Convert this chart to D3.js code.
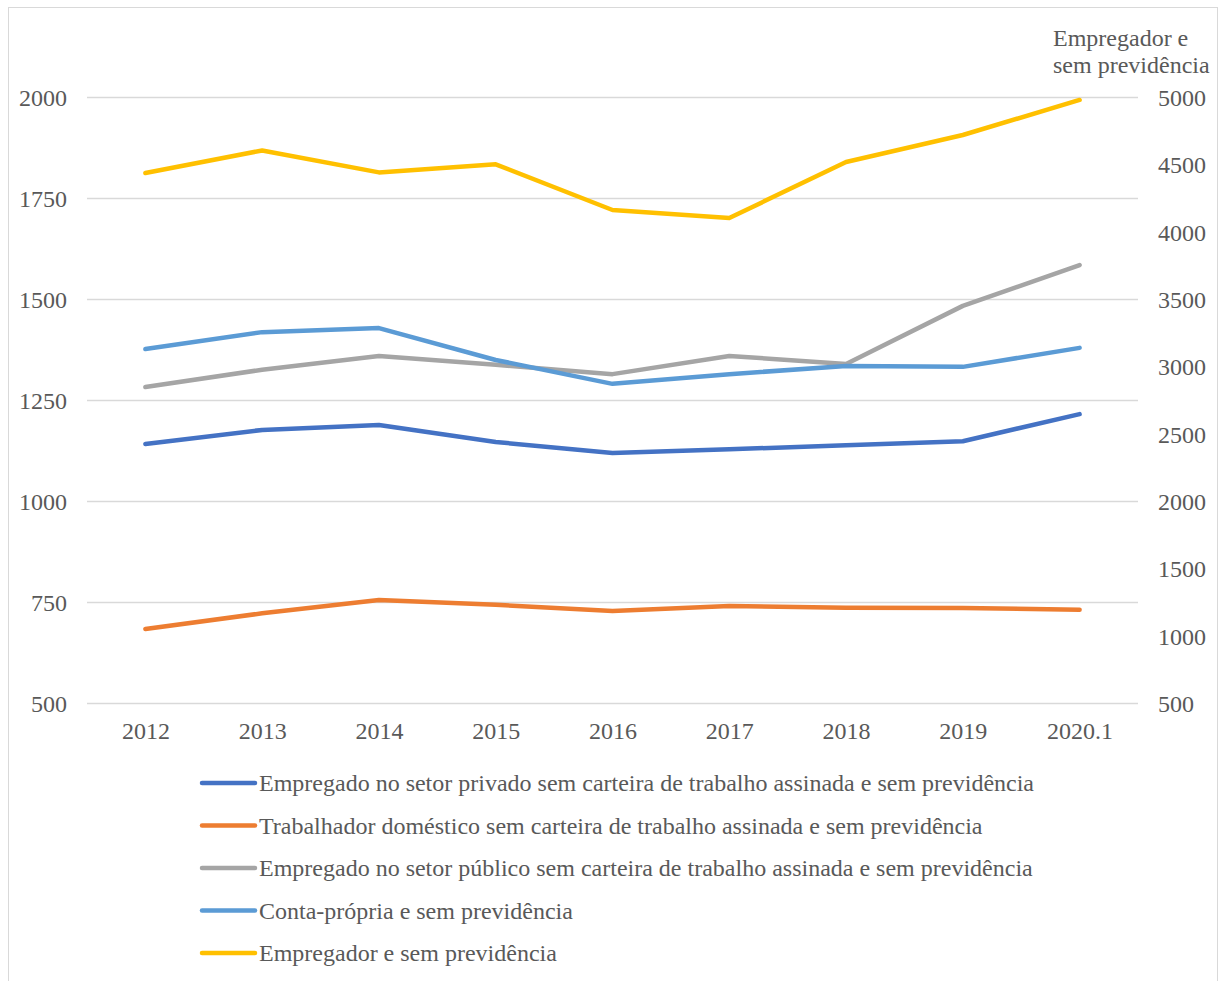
<!DOCTYPE html>
<html>
<head>
<meta charset="utf-8">
<script src="https://cdn.jsdelivr.net/npm/d3@7"></script>
<style>
  html, body { margin: 0; padding: 0; background: #fff; }
  svg text { font-family: "Liberation Serif", "Times New Roman", serif; fill: #595959; }
</style>
</head>
<body>
<svg id="chart" width="1222" height="981"></svg>
<script>
// Categories (x axis)
const periods = ["2012", "2013", "2014", "2015", "2016", "2017", "2018", "2019", "2020.1"];

// Series values (left axis)
const privadoSemCarteira = [1141, 1176, 1188, 1146, 1119, 1128, 1138, 1148, 1215];
const domesticoSemCarteira = [683, 722, 755, 743, 728, 740, 736, 735, 731];
const publicoSemCarteira = [1282, 1325, 1359, 1337, 1314, 1359, 1339, 1483, 1584];
const contaPropria = [1376, 1418, 1428, 1349, 1290, 1314, 1334, 1332, 1379];
// Series values (right axis)
const empregador = [4436, 4603, 4440, 4500, 4161, 4101, 4517, 4718, 4978];

// Tick labels
const leftTicks = [500, 750, 1000, 1250, 1500, 1750, 2000];
const rightTicks = [500, 1000, 1500, 2000, 2500, 3000, 3500, 4000, 4500, 5000];

const seriesNames = [
  "Empregado no setor privado sem carteira de trabalho assinada e sem previdência",
  "Trabalhador doméstico sem carteira de trabalho assinada e sem previdência",
  "Empregado no setor público sem carteira de trabalho assinada e sem previdência",
  "Conta-própria e sem previdência",
  "Empregador e sem previdência"
];
const seriesColors = ["#4472C4", "#ED7D31", "#A5A5A5", "#5B9BD5", "#FFC000"];
const rightAxisTitle = ["Empregador e", "sem previdência"];

const series = [
  { name: seriesNames[0], values: privadoSemCarteira, color: seriesColors[0], axis: "left" },
  { name: seriesNames[1], values: domesticoSemCarteira, color: seriesColors[1], axis: "left" },
  { name: seriesNames[2], values: publicoSemCarteira, color: seriesColors[2], axis: "left" },
  { name: seriesNames[3], values: contaPropria, color: seriesColors[3], axis: "left" },
  { name: seriesNames[4], values: empregador, color: seriesColors[4], axis: "right" }
];

const FONT = 24;
const svg = d3.select("#chart");

// Outer chart border
svg.append("rect")
  .attr("x", 8.5).attr("y", 7.5)
  .attr("width", 1209).attr("height", 990)
  .attr("fill", "none").attr("stroke", "#D9D9D9").attr("stroke-width", 1);

const plot = { left: 87, right: 1138, top: 97, bottom: 703 };

const x = d3.scalePoint()
  .domain(periods)
  .range([plot.left, plot.right])
  .padding(0.5);

const yLeft = d3.scaleLinear().domain([500, 2000]).range([plot.bottom, plot.top]);
const yRight = d3.scaleLinear().domain([500, 5000]).range([plot.bottom, plot.top]);

// Horizontal gridlines from the left axis
svg.append("g")
  .selectAll("line")
  .data(leftTicks)
  .join("line")
  .attr("x1", plot.left).attr("x2", plot.right)
  .attr("y1", d => Math.round(yLeft(d)) + 0.5)
  .attr("y2", d => Math.round(yLeft(d)) + 0.5)
  .attr("stroke", "#D9D9D9").attr("stroke-width", 1.3);

function styleLabels(g) {
  g.select(".domain").remove();
  g.selectAll("text")
    .attr("font-size", FONT)
    .style("font-family", "'Liberation Serif', 'Times New Roman', serif")
    .attr("fill", "#595959");
}

// Left axis labels
const leftAxis = d3.axisLeft(yLeft).tickValues(leftTicks).tickSize(0).tickPadding(0).tickFormat(d3.format("d"));
const gl = svg.append("g").attr("transform", `translate(67,0)`).call(leftAxis);
styleLabels(gl);
gl.selectAll("text").attr("dy", "0.35em");

// Right axis labels
const rightAxis = d3.axisRight(yRight).tickValues(rightTicks).tickSize(0).tickPadding(0).tickFormat(d3.format("d"));
const gr = svg.append("g").attr("transform", `translate(1158,0)`).call(rightAxis);
styleLabels(gr);
gr.selectAll("text").attr("dy", "0.35em");

// Bottom axis labels
const bottomAxis = d3.axisBottom(x).tickSize(0).tickPadding(0);
const gb = svg.append("g").attr("transform", `translate(0,${plot.bottom})`).call(bottomAxis);
styleLabels(gb);
gb.selectAll("text").attr("y", 28).attr("dy", "0.35em");

// Right axis title
svg.append("g")
  .selectAll("text")
  .data(rightAxisTitle)
  .join("text")
  .attr("x", 1053)
  .attr("y", (d, i) => 46 + i * 27)
  .attr("font-size", FONT)
  .text(d => d);

// Lines
const lineFor = s => d3.line()
  .x((d, i) => x(periods[i]))
  .y(d => (s.axis === "left" ? yLeft : yRight)(d));

svg.append("g")
  .selectAll("path")
  .data(series)
  .join("path")
  .attr("d", s => lineFor(s)(s.values))
  .attr("fill", "none")
  .attr("stroke", s => s.color)
  .attr("stroke-width", 4.5)
  .attr("stroke-linecap", "round")
  .attr("stroke-linejoin", "round");

// Legend
const legend = svg.append("g");
const legendItems = legend.selectAll("g")
  .data(series)
  .join("g")
  .attr("transform", (d, i) => `translate(0,${783 + i * 42.5})`);
legendItems.append("line")
  .attr("x1", 202).attr("x2", 255)
  .attr("y1", 0).attr("y2", 0)
  .attr("stroke", d => d.color)
  .attr("stroke-width", 4.5)
  .attr("stroke-linecap", "round");
legendItems.append("text")
  .attr("x", 259).attr("y", 0).attr("dy", "0.35em")
  .attr("font-size", FONT)
  .text(d => d.name);
</script>
</body>
</html>
